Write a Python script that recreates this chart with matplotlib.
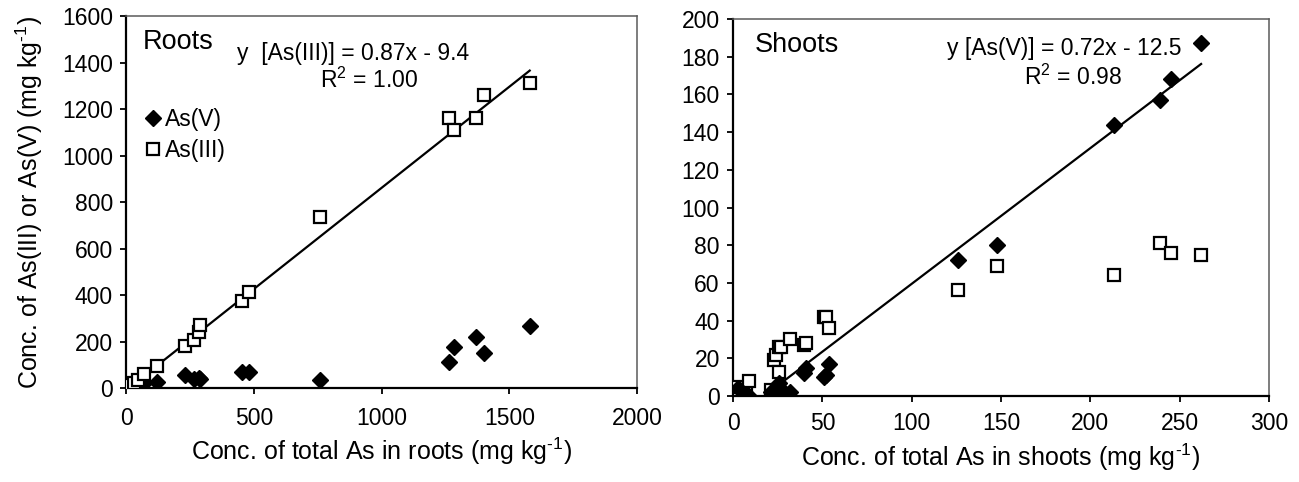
import matplotlib
matplotlib.use("Agg")
import matplotlib.pyplot as plt
import numpy as np

plt.rcParams["font.family"] = ["Liberation Sans", "DejaVu Sans"]
plt.rcParams["mathtext.fontset"] = "custom"
plt.rcParams["mathtext.rm"] = "Liberation Sans"
plt.rcParams["mathtext.it"] = "Liberation Sans:italic"

# Roots: total As with its As(III) and As(V) fractions (mg/kg)
roots_total = [5, 15, 30, 45, 70, 120, 230, 265, 285, 290, 455, 480, 760, 1265, 1285, 1370, 1400, 1580]
roots_as3 = [4, 12, 22, 35, 60, 95, 180, 205, 240, 270, 375, 415, 735, 1160, 1110, 1160, 1260, 1310]
roots_as5 = [2, 4, 8, 12, 20, 25, 55, 40, 45, 40, 70, 70, 35, 110, 175, 220, 150, 265]
roots_fit = (0.87, -9.4, "1.00")

# Shoots: total As with its As(V) and As(III) fractions (mg/kg)
shoots_total = [3, 7, 9, 21, 23, 24, 26, 26, 27, 32, 40, 41, 51, 52, 54, 126, 148, 213, 239, 245, 262]
shoots_as5 = [4, 1, 0, 2, 2, 4, 7, 5, 2, 2, 12, 15, 10, 11, 17, 72, 80, 144, 157, 168, 187]
shoots_as3 = [5, 3, 8, 3, 19, 22, 13, 26, 26, 30, 27, 28, 42, 42, 36, 56, 69, 64, 81, 76, 75]
shoots_fit = (0.72, -12.5, "0.98")

roots_xticks = [0, 500, 1000, 1500, 2000]
roots_yticks = [0, 200, 400, 600, 800, 1000, 1200, 1400, 1600]
shoots_xticks = [0, 50, 100, 150, 200, 250, 300]
shoots_yticks = [0, 20, 40, 60, 80, 100, 120, 140, 160, 180, 200]

TICK_FS = 16.5
LABEL_FS = 18
NOTE_FS = 16.5
PANEL_FS = 19.5
UNIT = " (mg kg$^{\\text{-1}}$)"

fig = plt.figure(figsize=(12.99, 4.82), dpi=100)
ax1 = fig.add_axes([0.0970, 0.1950, 0.3934, 0.7718])
ax2 = fig.add_axes([0.5643, 0.1784, 0.4126, 0.7822])

diamond = dict(marker="D", ms=8.5, mfc="black", mec="black", mew=1.0, ls="none")
square = dict(marker="s", ms=8.5, mfc="white", mec="black", mew=1.6, ls="none")


def style(ax, xt, yt, xpad):
    ax.set_xlim(xt[0], xt[-1])
    ax.set_ylim(yt[0], yt[-1])
    ax.set_xticks(xt)
    ax.set_yticks(yt)
    for s in ("left", "bottom"):
        ax.spines[s].set_linewidth(1.6)
        ax.spines[s].set_color("black")
    for s in ("top", "right"):
        ax.spines[s].set_linewidth(1.1)
        ax.spines[s].set_color("#5a5a5a")
    ax.tick_params(direction="out", length=4.5, width=1.3, labelsize=TICK_FS,
                   top=False, right=False)
    ax.tick_params(axis="y", pad=5)
    ax.tick_params(axis="x", pad=xpad)


def fit_line(ax, fit, xs):
    slope, icpt, _ = fit
    x = np.linspace(min(xs), max(xs), 200)
    ax.plot(x, slope * x + icpt, color="black", lw=1.6, zorder=2)


# Roots panel
fit_line(ax1, roots_fit, roots_total)
ax1.plot(roots_total, roots_as5, label="As(V)", zorder=3, **diamond)
ax1.plot(roots_total, roots_as3, label="As(III)", zorder=4, **square)
style(ax1, roots_xticks, roots_yticks, xpad=9.5)
ax1.set_xlabel("Conc. of total As in roots" + UNIT, fontsize=LABEL_FS, labelpad=4)
ax1.set_ylabel("Conc. of As(III) or As(V)" + UNIT, fontsize=LABEL_FS, labelpad=12)
ax1.text(0.033, 0.930, "Roots", transform=ax1.transAxes, fontsize=PANEL_FS, va="center", ha="left")
ax1.text(0.445, 0.900, "y  [As(III)] = %.2fx - %.1f" % (roots_fit[0], -roots_fit[1]),
         transform=ax1.transAxes, fontsize=NOTE_FS, va="center", ha="center")
ax1.text(0.476, 0.828, "R$^2$ = " + roots_fit[2], transform=ax1.transAxes,
         fontsize=NOTE_FS, va="center", ha="center")
ax1.legend(loc="upper left", bbox_to_anchor=(0.005, 0.795), frameon=False, fontsize=NOTE_FS,
           handlelength=0.7, handletextpad=0.2, labelspacing=0.35, borderaxespad=0.3)

# Shoots panel
fit_line(ax2, shoots_fit, shoots_total)
ax2.plot(shoots_total, shoots_as3, zorder=3, **square)
ax2.plot(shoots_total, shoots_as5, zorder=4, **diamond)
style(ax2, shoots_xticks, shoots_yticks, xpad=6.8)
ax2.set_xlabel("Conc. of total As in shoots" + UNIT, fontsize=LABEL_FS, labelpad=5)
ax2.text(0.041, 0.931, "Shoots", transform=ax2.transAxes, fontsize=PANEL_FS, va="center", ha="left")
ax2.text(0.618, 0.923, "y [As(V)] = %.2fx - %.1f" % (shoots_fit[0], -shoots_fit[1]),
         transform=ax2.transAxes, fontsize=NOTE_FS, va="center", ha="center")
ax2.text(0.634, 0.846, "R$^2$ = " + shoots_fit[2], transform=ax2.transAxes,
         fontsize=NOTE_FS, va="center", ha="center")

fig.savefig("out.png", dpi=100)
